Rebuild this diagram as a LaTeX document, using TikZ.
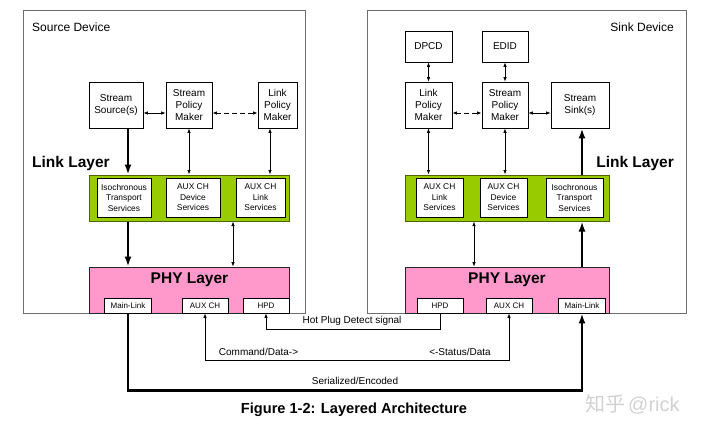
\documentclass[tikz,border=0pt]{standalone}
\usepackage{fontspec}
\setmainfont{Liberation Sans}
\newfontfamily\cjkfont{Noto Sans CJK SC}
\usepackage{tikz}
\usetikzlibrary{arrows.meta}
\definecolor{linkgreen}{HTML}{99CC00}
\definecolor{linkedge}{HTML}{4F6200}
\definecolor{phypink}{HTML}{FF99CC}
\definecolor{devgray}{HTML}{6E6E6E}

\begin{document}
\begin{tikzpicture}[x=1pt,y=-1pt,
  device/.style={draw=devgray, line width=0.8pt, inner sep=0pt},
  box/.style={draw, fill=white, line width=0.8pt, align=center, inner sep=0pt, minimum height=46, font=\fontsize{10}{12}\selectfont},
  svc/.style={draw, fill=white, line width=0.8pt, align=center, inner sep=0pt, minimum height=39, font=\fontsize{8.4}{10.5}\selectfont},
  port/.style={draw, fill=white, line width=0.8pt, inner sep=0pt, minimum height=15, font=\fontsize{8}{8}\selectfont},
  linkbar/.style={draw=linkedge, fill=linkgreen, line width=1pt, minimum width=200, minimum height=46, inner sep=0pt},
  phybar/.style={draw=black!85, fill=phypink, line width=0.8pt, minimum width=200, minimum height=46, inner sep=0pt},
  layer/.style={font=\bfseries\fontsize{15.5}{16}\selectfont, inner sep=0pt},
  sig/.style={font=\fontsize{10}{10}\selectfont, inner sep=0pt},
  dbl/.style={{Latex[length=4.5pt,width=3.5pt]}-{Latex[length=4.5pt,width=3.5pt]}, line width=0.7pt},
  dsh/.style={dbl, line width=1pt, dash pattern=on 5pt off 3pt},
  bold/.style={-{Latex[length=10pt,width=7pt]}, line width=2.4pt},
  oneway/.style={-{Latex[length=4.5pt,width=3.5pt]}, line width=0.7pt}]
\useasboundingbox (0,0) rectangle (711,433);

\node[device, minimum width=282, minimum height=303] (srcdev) at (164,161.5) {};
\node[device, minimum width=319, minimum height=303] (snkdev) at (526.5,161.5) {};
\node[anchor=west, font=\fontsize{12}{12}\selectfont, inner sep=0pt] (srcname) at (32,27) {Source Device};
\node[anchor=east, font=\fontsize{12}{12}\selectfont, inner sep=0pt] (snkname) at (674,27) {Sink Device};

\node[box, minimum width=54] (ssrc) at (116,105) {Stream\\Source(s)};
\node[box, minimum width=46] (sspm) at (189,105) {Stream\\Policy\\Maker};
\node[box, minimum width=39] (slpm) at (277.5,105) {Link\\Policy\\Maker};
\node[layer, anchor=west] (slayer) at (32,163) {Link Layer};
\node[linkbar] (slink) at (189,198) {};
\node[svc, minimum width=54] (siso) at (124,197.5) {Isochronous\\Transport\\Services};
\node[svc, minimum width=54] (sauxd) at (193,197.5) {AUX CH\\Device\\Services};
\node[svc, minimum width=49] (sauxl) at (260.5,197.5) {AUX CH\\Link\\Services};
\node[phybar] (sphy) at (189,290) {};
\node[layer] (sphyname) at (189.5,280) {PHY Layer};
\node[port, minimum width=47] (smain) at (128,305.5) {Main-Link};
\node[port, minimum width=46] (saux) at (205,305.5) {AUX CH};
\node[port, minimum width=46] (shpd) at (266,305.5) {HPD};
\coordinate (sauxcol) at (233,0);

\node[box, minimum width=47, minimum height=31] (dpcd) at (428.5,46.5) {DPCD};
\node[box, minimum width=46, minimum height=31] (edid) at (505,46.5) {EDID};
\node[box, minimum width=47] (klpm) at (428.5,105) {Link\\Policy\\Maker};
\node[box, minimum width=46] (kspm) at (505,105) {Stream\\Policy\\Maker};
\node[box, minimum width=58] (ksink) at (580,105) {Stream\\Sink(s)};
\node[layer, anchor=east] (klayer) at (674,163) {Link Layer};
\node[linkbar, minimum width=204] (klink) at (507,198) {};
\node[svc, minimum width=47] (kauxl) at (439.5,197.5) {AUX CH\\Link\\Services};
\node[svc, minimum width=47] (kauxd) at (503.5,197.5) {AUX CH\\Device\\Services};
\node[svc, minimum width=57] (kiso) at (574.5,197.5) {Isochronous\\Transport\\Services};
\node[phybar, minimum width=204] (kphy) at (507,290) {};
\node[layer] (kphyname) at (507,280) {PHY Layer};
\node[port, minimum width=46] (khpd) at (440,305.5) {HPD};
\node[port, minimum width=46] (kaux) at (509,305.5) {AUX CH};
\node[port, minimum width=47] (kmain) at (582,305.5) {Main-Link};
\coordinate (kauxcol) at (474,0);

\draw[dbl] ([yshift=-8pt]ssrc.east) -- ([yshift=-8pt]sspm.west);
\draw[dsh] ([yshift=-8pt]sspm.east) -- ([yshift=-8pt]slpm.west);
\draw[dbl] (sspm.south) -- (sspm.south |- slink.north);
\draw[dbl] ([xshift=-7.5pt]slpm.south) -- ([xshift=-7.5pt]slpm.south |- slink.north);
\draw[bold] (ssrc.south -| smain) -- (slink.north -| smain);
\draw[bold] (slink.south -| smain) -- (sphy.north -| smain);
\draw[dbl] (slink.south -| sauxcol) -- (sphy.north -| sauxcol);

\draw[dbl] (dpcd.south) -- (klpm.north);
\draw[dbl] (edid.south) -- (kspm.north);
\draw[dsh] ([yshift=-8pt]klpm.east) -- ([yshift=-8pt]kspm.west);
\draw[dbl] ([yshift=-8pt]kspm.east) -- ([yshift=-8pt]ksink.west);
\draw[dbl] (klpm.south) -- (klpm.south |- klink.north);
\draw[dbl] (kspm.south) -- (kspm.south |- klink.north);
\draw[bold] (klink.north -| kmain) -- (ksink.south -| kmain);
\draw[bold] (kphy.north -| kmain) -- (klink.south -| kmain);
\draw[dbl] (klink.south -| kauxcol) -- (kphy.north -| kauxcol);

\draw[oneway] (khpd.south) -- ++(0,16) -| (shpd.south);
\node[sig] (hpdname) at (352,321) {Hot Plug Detect signal};
\draw[dbl] (saux.south) -- ++(0,47) -| (kaux.south);
\node[sig] (cmdname) at (258.5,352) {Command/Data->};
\node[sig] (statname) at (460,352) {<-Status/Data};
\draw[bold, line width=2.6pt] (smain.south) -- ++(0,77) -| (kmain.south);
\node[sig] (sername) at (355,381) {Serialized/Encoded};

\node[font=\bfseries\fontsize{14.6}{15}\selectfont, inner sep=0pt] (caption) at (354,410) {Figure 1-2: Layered Architecture};
\node[anchor=west, text=black!18, font=\fontsize{20}{20}\selectfont, inner sep=0pt] (mark) at (585,404) {{\cjkfont 知乎}\hspace{3pt}@rick};
\end{tikzpicture}
\end{document}
